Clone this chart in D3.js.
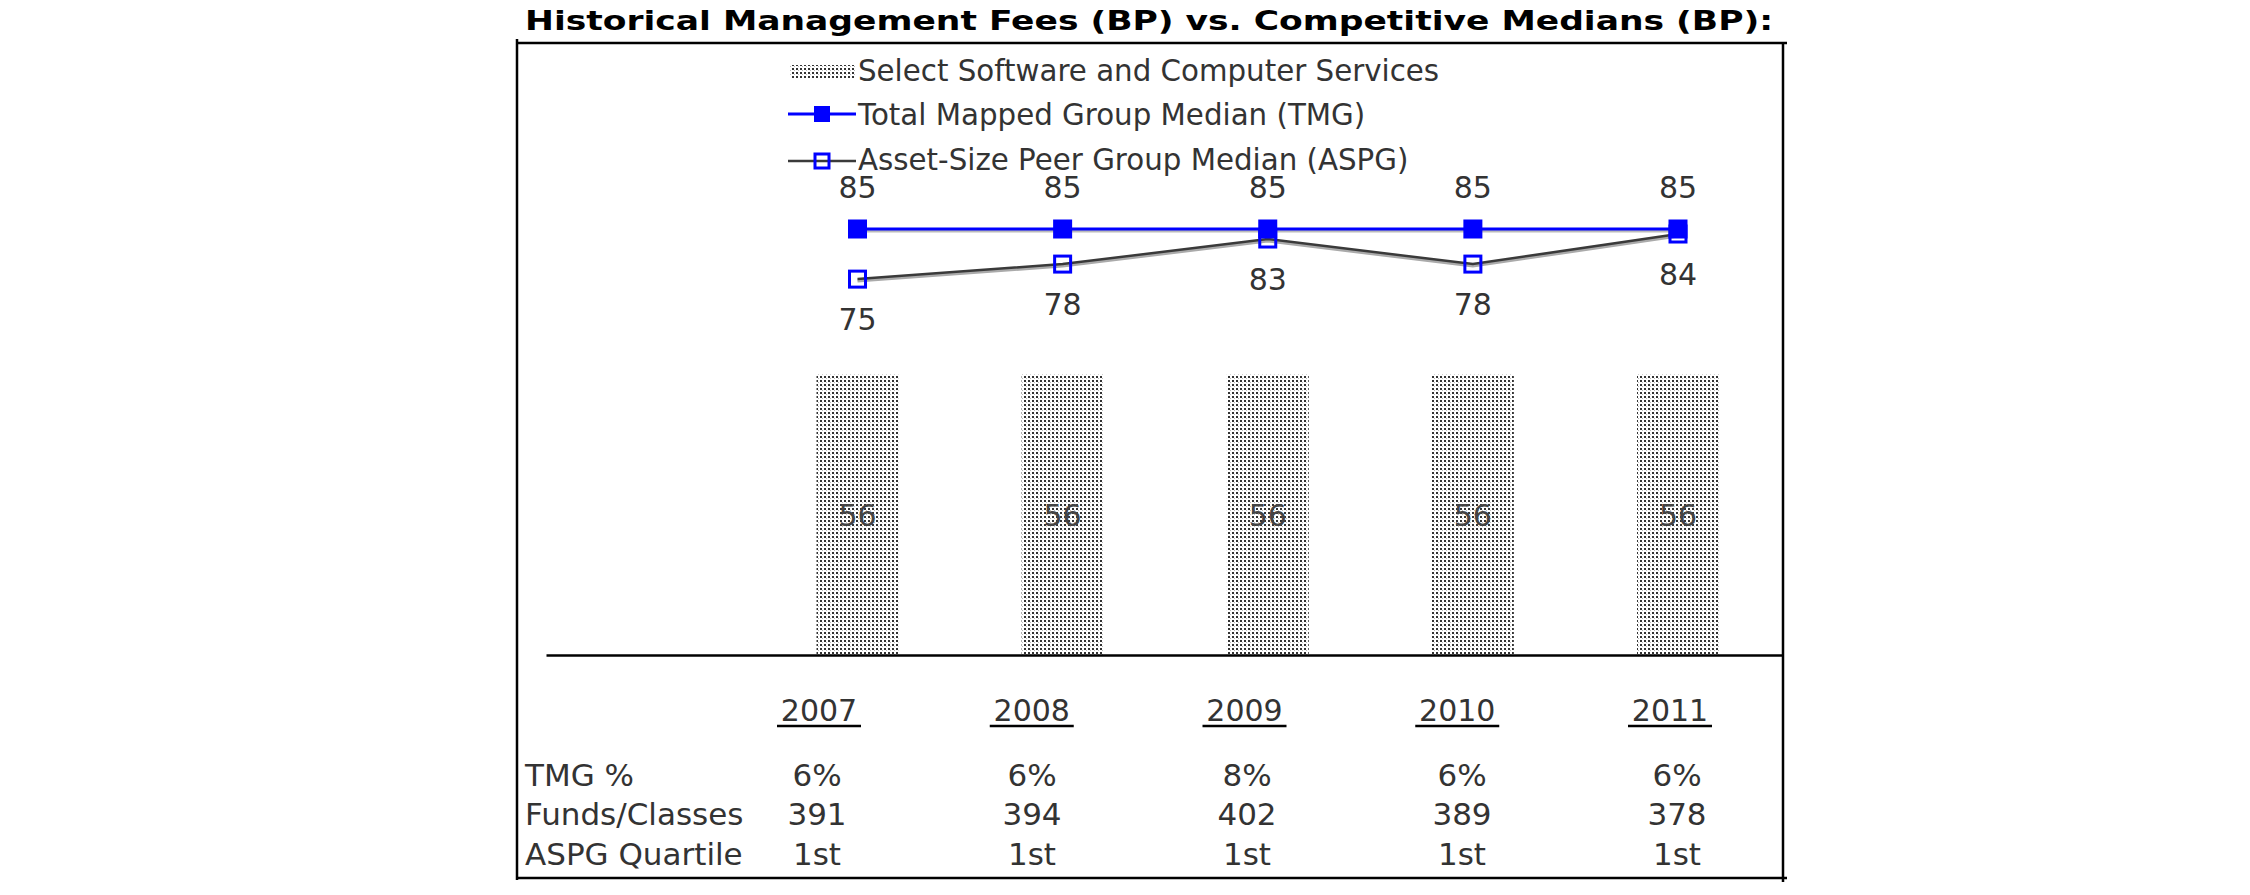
<!DOCTYPE html>
<html>
<head>
<meta charset="utf-8">
<script src="https://cdn.jsdelivr.net/npm/d3@7"></script>
<style>
  html, body { margin: 0; padding: 0; background: #fff; }
  svg { display: block; }
</style>
</head>
<body>
<svg id="chart" width="2250" height="895"></svg>
<script>
// ---- data ----
const title = "Historical Management Fees (BP) vs. Competitive Medians (BP):";
const years = ["2007", "2008", "2009", "2010", "2011"];
const seriesNames = ["Select Software and Computer Services", "Total Mapped Group Median (TMG)", "Asset-Size Peer Group Median (ASPG)"];
const fundValues = [56, 56, 56, 56, 56];
const tmgValues = [85, 85, 85, 85, 85];
const aspgValues = [75, 78, 83, 78, 84];
const rowLabels = ["TMG %", "Funds/Classes", "ASPG Quartile"];
const tmgPct = ["6%", "6%", "8%", "6%", "6%"];
const fundsClasses = ["391", "394", "402", "389", "378"];
const aspgQuartile = ["1st", "1st", "1st", "1st", "1st"];

// ---- setup ----
const svg = d3.select("#chart");
const FONT = "'DejaVu Sans', Verdana, sans-serif";
const TEXT = "#333";

const defs = svg.append("defs");
const pat = defs.append("pattern").attr("id", "stipple")
  .attr("patternUnits", "userSpaceOnUse").attr("width", 4).attr("height", 4);
pat.append("rect").attr("width", 4).attr("height", 4).attr("fill", "#fff");
pat.append("rect").attr("x", 0).attr("y", 0).attr("width", 2).attr("height", 2).attr("fill", "#333");
pat.append("rect").attr("x", 2).attr("y", 2).attr("width", 1).attr("height", 1).attr("fill", "#bbb");

// scales
const x = d3.scalePoint().domain(years).range([857.5, 1678]);
const y = d3.scaleLinear().domain([0, 85]).range([655, 229]);
const xYear = d3.scalePoint().domain(years).range([819, 1670]);
const xVal = d3.scalePoint().domain(years).range([817, 1677]);
const barW = 82;

// title
svg.append("text").attr("x", 525).attr("y", 30)
  .attr("font-family", FONT).attr("font-weight", "bold").attr("font-size", 27)
  .attr("textLength", 1248).attr("lengthAdjust", "spacingAndGlyphs")
  .attr("fill", "#000").text(title);

// frame
const frame = svg.append("g").attr("stroke", "#000").attr("stroke-width", 2.5);
frame.append("line").attr("x1", 517).attr("x2", 1787).attr("y1", 43).attr("y2", 43);
frame.append("line").attr("x1", 517).attr("x2", 517).attr("y1", 39).attr("y2", 880);
frame.append("line").attr("x1", 1783).attr("x2", 1783).attr("y1", 43).attr("y2", 882);
frame.append("line").attr("x1", 517).attr("x2", 1787).attr("y1", 878).attr("y2", 878);

// bars
svg.append("g").selectAll("rect").data(fundValues).join("rect")
  .attr("x", (d, i) => x(years[i]) - barW / 2)
  .attr("y", d => y(d))
  .attr("width", barW)
  .attr("height", d => y(0) - y(d))
  .attr("fill", "url(#stipple)");

svg.append("g").selectAll("text").data(fundValues).join("text")
  .attr("x", (d, i) => x(years[i]))
  .attr("y", d => (y(d) + y(0)) / 2 + 11)
  .attr("text-anchor", "middle")
  .attr("font-family", FONT).attr("font-size", 30).attr("fill", "#444")
  .text(d => d);

// baseline axis
const axisScale = d3.scaleLinear().domain([0, 1]).range([546, 1783]);
svg.append("g").attr("transform", `translate(0,${y(0)})`)
  .call(d3.axisBottom(axisScale).tickValues([]).tickSizeOuter(0))
  .call(g => g.select(".domain").attr("stroke", "#000").attr("stroke-width", 2.5));

// lines
const line = d3.line().x((d, i) => x(years[i])).y(d => y(d));

// ASPG line with shadow
svg.append("path").datum(aspgValues).attr("d", line)
  .attr("fill", "none").attr("stroke", "#aaa").attr("stroke-width", 3)
  .attr("transform", "translate(0,2)");
svg.append("path").datum(aspgValues).attr("d", line)
  .attr("fill", "none").attr("stroke", "#3a3a3a").attr("stroke-width", 2.5);

// TMG line with shadow
svg.append("path").datum(tmgValues).attr("d", line)
  .attr("fill", "none").attr("stroke", "#bbb").attr("stroke-width", 3)
  .attr("transform", "translate(0,2)");
svg.append("path").datum(tmgValues).attr("d", line)
  .attr("fill", "none").attr("stroke", "#0000ff").attr("stroke-width", 3);

// ASPG markers (hollow)
svg.append("g").selectAll("rect").data(aspgValues).join("rect")
  .attr("x", (d, i) => x(years[i]) - 8)
  .attr("y", d => y(d) - 8)
  .attr("width", 16).attr("height", 16)
  .attr("fill", "none").attr("stroke", "#0000ff").attr("stroke-width", 3);

// TMG markers (filled)
svg.append("g").selectAll("rect").data(tmgValues).join("rect")
  .attr("x", (d, i) => x(years[i]) - 9.5)
  .attr("y", d => y(d) - 9.5)
  .attr("width", 19).attr("height", 19)
  .attr("fill", "#0000ff");

// data labels
svg.append("g").selectAll("text").data(tmgValues).join("text")
  .attr("x", (d, i) => x(years[i]))
  .attr("y", d => y(d) - 31)
  .attr("text-anchor", "middle")
  .attr("font-family", FONT).attr("font-size", 30).attr("fill", TEXT)
  .text(d => d);
svg.append("g").selectAll("text").data(aspgValues).join("text")
  .attr("x", (d, i) => x(years[i]))
  .attr("y", d => y(d) + 51)
  .attr("text-anchor", "middle")
  .attr("font-family", FONT).attr("font-size", 30).attr("fill", TEXT)
  .text(d => d);

// legend
const leg = svg.append("g");
const legX = 790, legTextX = 858;
const legBase = [81, 125, 170];
leg.append("rect").attr("x", legX).attr("y", legBase[0] - 16).attr("width", 66).attr("height", 13)
  .attr("fill", "url(#stipple)");
// TMG swatch
leg.append("line").attr("x1", legX - 2).attr("x2", legX + 66).attr("y1", legBase[1] - 11).attr("y2", legBase[1] - 11)
  .attr("stroke", "#0000ff").attr("stroke-width", 3);
leg.append("rect").attr("x", legX + 24).attr("y", legBase[1] - 19).attr("width", 16).attr("height", 16)
  .attr("fill", "#0000ff");
// ASPG swatch
leg.append("line").attr("x1", legX - 2).attr("x2", legX + 66).attr("y1", legBase[2] - 9).attr("y2", legBase[2] - 9)
  .attr("stroke", "#3a3a3a").attr("stroke-width", 2.5);
leg.append("rect").attr("x", legX + 25).attr("y", legBase[2] - 16).attr("width", 14).attr("height", 14)
  .attr("fill", "none").attr("stroke", "#0000ff").attr("stroke-width", 3);
leg.selectAll("text").data(seriesNames).join("text")
  .attr("x", legTextX).attr("y", (d, i) => legBase[i])
  .attr("font-family", FONT).attr("font-size", 29.3).attr("fill", TEXT)
  .text(d => d);

// table: year headers with underline
const hdr = svg.append("g");
hdr.selectAll("text").data(years).join("text")
  .attr("x", d => xYear(d)).attr("y", 721)
  .attr("text-anchor", "middle")
  .attr("font-family", FONT).attr("font-size", 30).attr("fill", TEXT)
  .text(d => d);
hdr.selectAll("line").data(years).join("line")
  .attr("x1", d => xYear(d) - 42).attr("x2", d => xYear(d) + 42)
  .attr("y1", 726).attr("y2", 726)
  .attr("stroke", "#000").attr("stroke-width", 2.5);

// table rows
const rowData = [tmgPct, fundsClasses, aspgQuartile];
const rowBase = [786, 825, 865];
const rows = svg.append("g");
rows.selectAll("text.lbl").data(rowLabels).join("text").attr("class", "lbl")
  .attr("x", 525).attr("y", (d, i) => rowBase[i])
  .attr("font-family", FONT).attr("font-size", 31).attr("fill", TEXT)
  .text(d => d);
rowData.forEach((vals, r) => {
  rows.append("g").selectAll("text").data(vals).join("text")
    .attr("x", (d, i) => xVal(years[i])).attr("y", rowBase[r])
    .attr("text-anchor", "middle")
    .attr("font-family", FONT).attr("font-size", 31).attr("fill", TEXT)
    .text(d => d);
});
</script>
</body>
</html>
